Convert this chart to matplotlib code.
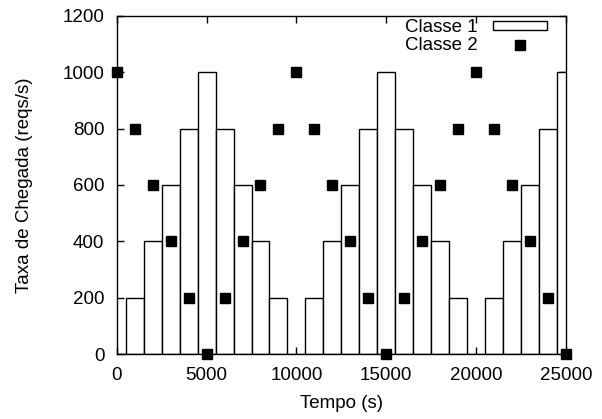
import matplotlib
matplotlib.use("Agg")
import matplotlib.pyplot as plt
from matplotlib.patches import Patch
from matplotlib.lines import Line2D

plt.rcParams["font.family"] = ["Liberation Sans", "DejaVu Sans"]
plt.rcParams["font.size"] = 13.5

# Classe 1: bars of width 1000 centred on each time step
tempo = [0, 1000, 2000, 3000, 4000, 5000, 6000, 7000, 8000, 9000,
         10000, 11000, 12000, 13000, 14000, 15000, 16000, 17000, 18000, 19000,
         20000, 21000, 22000, 23000, 24000, 25000]
classe1 = [0, 200, 400, 600, 800, 1000, 800, 600, 400, 200,
           0, 200, 400, 600, 800, 1000, 800, 600, 400, 200,
           0, 200, 400, 600, 800, 1000]
# Classe 2: points
classe2 = [1000, 800, 600, 400, 200, 0, 200, 400, 600, 800,
           1000, 800, 600, 400, 200, 0, 200, 400, 600, 800,
           1000, 800, 600, 400, 200, 0]

fig = plt.figure(figsize=(6.02, 4.19), dpi=100)
ax = fig.add_axes([0.194, 0.155, 0.746, 0.807])

ax.bar(tempo, classe1, width=1000, facecolor="white", edgecolor="black",
       linewidth=1.0, zorder=2)
ax.plot(tempo, classe2, linestyle="none", marker="s", markersize=7.8,
        color="black", zorder=3, clip_on=False)

ax.set_xlim(0, 25000)
ax.set_ylim(0, 1200)
ax.set_xticks([0, 5000, 10000, 15000, 20000, 25000])
ax.set_yticks([0, 200, 400, 600, 800, 1000, 1200])
ax.tick_params(direction="in", top=True, right=True, length=5, width=1, pad=9)
for s in ax.spines.values():
    s.set_linewidth(1.0)

ax.set_xlabel("Tempo (s)", labelpad=8)
ax.set_ylabel("Taxa de Chegada (reqs/s)", labelpad=21)

handles = [Patch(facecolor="white", edgecolor="black", linewidth=1.0),
           Line2D([], [], linestyle="none", marker="s", markersize=7.8, color="black")]
ax.legend(handles, ["Classe 1", "Classe 2"], loc="upper right", frameon=False,
          bbox_to_anchor=(0.958, 0.99), borderaxespad=0, borderpad=0,
          markerfirst=False, handlelength=2.9, handleheight=0.4,
          labelspacing=0.05, handletextpad=0.8, fontsize=13.5)

fig.savefig("out.png", dpi=100)
